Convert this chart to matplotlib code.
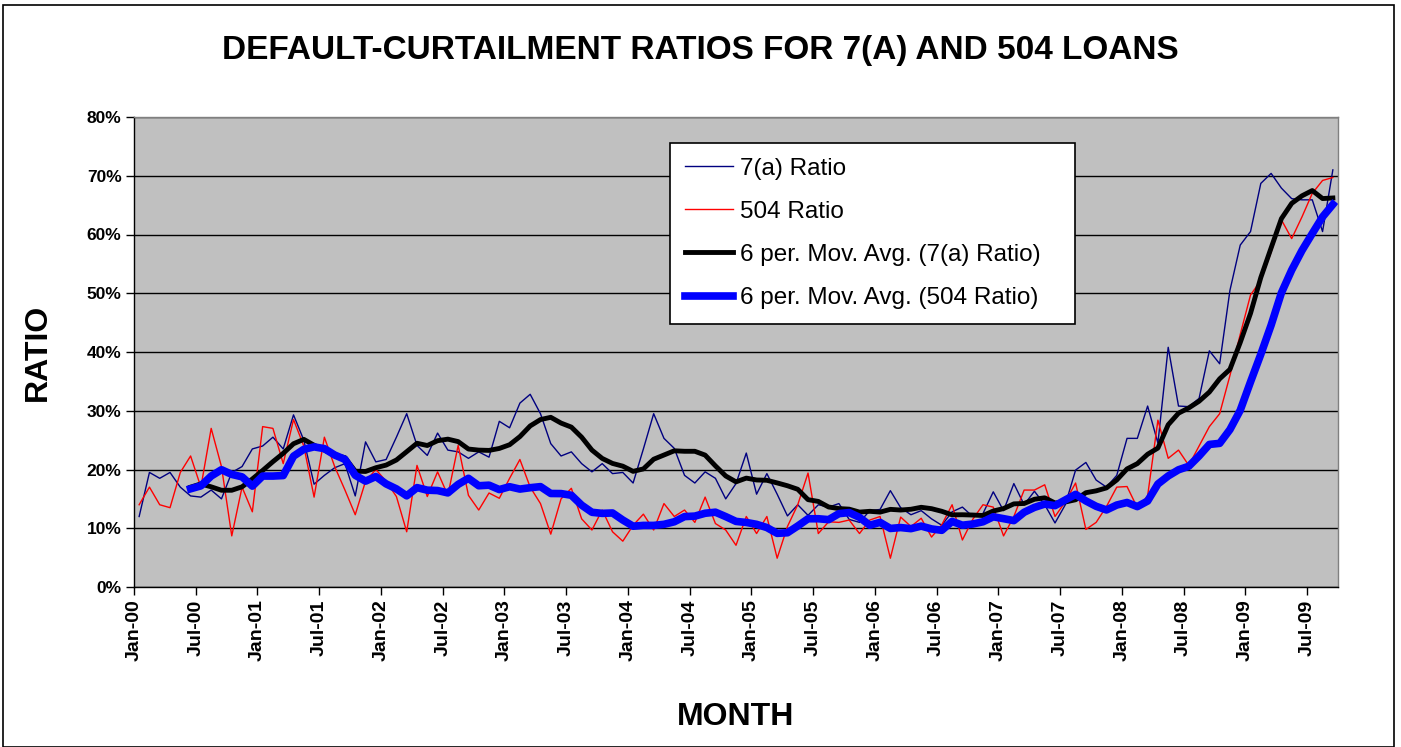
import matplotlib
matplotlib.use("Agg")
import matplotlib.pyplot as plt
import numpy as np
import pandas as pd
from matplotlib.patches import Rectangle

plt.rcParams["font.family"] = ["Liberation Sans", "DejaVu Sans"]

# monthly default-curtailment ratios (%), Jan-00 .. Sep-09
ratio_7a = [
    12, 19.5, 18.5, 19.5, 17, 15.5, 15.3, 16.5, 15, 19.5, 20.5, 23.5,
    24, 25.5, 23.5, 29.3, 25, 17.5, 19, 20.3, 21, 15.5, 24.7, 21.3,
    21.7, 25.5, 29.5, 24.1, 22.4, 26.2, 23.3, 23, 21.9, 23, 22.1, 28.2,
    27.1, 31.3, 32.8, 29.5, 24.4, 22.3, 23, 21, 19.6, 21, 19.3, 19.5,
    17.7, 23.5, 29.5, 25.3, 23.6, 19, 17.7, 19.6, 18.5, 15, 17.6, 22.8,
    15.8, 19.3, 15.8, 12.1, 14, 12.2, 14, 13.6, 14.2, 11.5, 11, 13,
    13.2, 16.4, 13.5, 12.3, 13, 11.6, 10.5, 12.8, 13.6, 12, 12.5, 16.2,
    13, 17.6, 14, 16.3, 14, 10.9, 14, 19.9, 21.2, 18.2, 17, 19,
    25.3, 25.3, 30.8, 24.5, 40.8, 30.8, 30.7, 32.1, 40.2, 38, 50.5, 58.2,
    60.5, 68.7, 70.4, 67.9, 66.1, 65.9, 65.9, 60.5, 71,
]
ratio_504 = [
    14, 17, 14, 13.5, 19.5, 22.3, 17, 27, 20.5, 8.7, 17, 12.8,
    27.3, 27, 21, 28.5, 24, 15.3, 25.5, 20.5, 16.5, 12.3, 18, 20,
    18, 15.4, 9.4, 20.7, 15.4, 19.6, 15.6, 24.1, 15.6, 13.1, 16, 15.1,
    18.5, 21.7, 17, 14.2, 9, 15, 16.8, 11.6, 9.7, 13.1, 9.4, 7.8,
    10.5, 12.4, 9.7, 14.2, 12, 13.1, 11, 15.3, 10.8, 9.7, 7.1, 12,
    9.1, 12, 4.9, 10.3, 14, 19.4, 9.1, 11.1, 11, 11.4, 9.1, 11.4,
    12, 4.9, 11.9, 10.3, 11.7, 8.5, 10.6, 14, 8, 11.5, 14, 13.6,
    8.7, 12, 16.5, 16.5, 17.4, 12, 14.5, 17.7, 9.8, 11, 13.7, 17,
    17.1, 13.5, 15.5, 28.4, 21.9, 23.3, 20.7, 24, 27.3, 29.5, 36, 43,
    49.7, 52.2, 57, 62.5, 59.3, 63, 67, 69.2, 69.7,
]
tick_labels = [
    "Jan-00", "Jul-00", "Jan-01", "Jul-01", "Jan-02", "Jul-02", "Jan-03",
    "Jul-03", "Jan-04", "Jul-04", "Jan-05", "Jul-05", "Jan-06", "Jul-06",
    "Jan-07", "Jul-07", "Jan-08", "Jul-08", "Jan-09", "Jul-09",
]
y_ticks = [0, 10, 20, 30, 40, 50, 60, 70, 80]

n = len(ratio_7a)
x = np.arange(n) + 0.5
ma_7a = pd.Series(ratio_7a).rolling(6).mean()
ma_504 = pd.Series(ratio_504).rolling(6).mean()

fig = plt.figure(figsize=(14.01, 7.47), dpi=100)
fig.patches.append(Rectangle((3 / 1401, 0), 1391 / 1401, 742 / 747,
                             transform=fig.transFigure, fill=False,
                             edgecolor="black", linewidth=1.2))
ax = fig.add_axes([134 / 1401, 1 - 587 / 747, 1204 / 1401, 470 / 747])
ax.set_facecolor("#c0c0c0")

ax.plot(x, ratio_7a, color="#000080", lw=1.0, label="7(a) Ratio")
ax.plot(x, ratio_504, color="#ff0000", lw=1.0, label="504 Ratio")
ax.plot(x, ma_7a, color="black", lw=3.5, label="6 per. Mov. Avg. (7(a) Ratio)")
ax.plot(x, ma_504, color="#0000ff", lw=5.5, label="6 per. Mov. Avg. (504 Ratio)")

ax.set_xlim(0, n)
ax.set_ylim(0, 80)
ax.set_yticks(y_ticks)
ax.set_yticklabels([f"{v}%" for v in y_ticks], fontsize=12.5, fontweight="bold")
ax.set_xticks(np.arange(len(tick_labels)) * 6)
ax.set_xticklabels(tick_labels, rotation=90, fontsize=14, fontweight="bold")
ax.tick_params(direction="out", length=6, width=1, color="black", pad=3)

ax.grid(axis="y", color="black", lw=1)
ax.set_axisbelow(True)
for side in ("left", "bottom"):
    ax.spines[side].set_color("black")
    ax.spines[side].set_linewidth(1)
for side in ("top", "right"):
    ax.spines[side].set_color("#808080")
    ax.spines[side].set_linewidth(1)

ax.set_ylabel("RATIO", fontsize=23, fontweight="bold", labelpad=24)
ax.set_xlabel("MONTH", fontsize=23, fontweight="bold", labelpad=29)
fig.text(0.5, 1 - 51 / 747, "DEFAULT-CURTAILMENT RATIOS FOR 7(A) AND 504 LOANS",
         ha="center", va="center", fontsize=24, fontweight="bold")

x0 = (670 - 134) / 1204
x1 = (1075 - 134) / 1204
y0 = (587 - 322) / 470
y1 = (587 - 143) / 470
leg = ax.legend(loc="upper left", bbox_to_anchor=(x0, y0, x1 - x0, y1 - y0),
                mode="expand", borderaxespad=0, fontsize=17.5, handlelength=2.0,
                handletextpad=0.3, labelspacing=0.87, borderpad=0.6,
                fancybox=False, framealpha=1, edgecolor="black")
leg.get_frame().set_linewidth(1.2)

fig.savefig("out.png", dpi=100)
